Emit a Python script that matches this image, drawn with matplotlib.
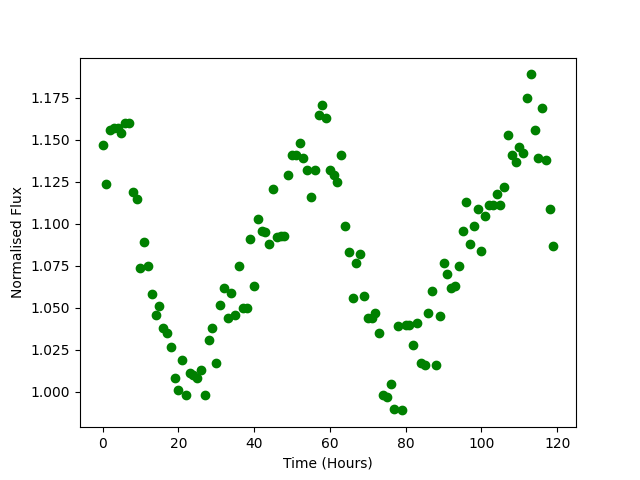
import matplotlib
matplotlib.use("Agg")
import matplotlib.pyplot as plt

# hours since start
hours = list(range(120))

# normalised flux
flux = [1.147, 1.124, 1.156, 1.157, 1.157, 1.154, 1.160, 1.160, 1.119, 1.115,
        1.074, 1.089, 1.075, 1.058, 1.046, 1.051, 1.038, 1.035, 1.027, 1.008,
        1.001, 1.019, 0.998, 1.011, 1.010, 1.008, 1.013, 0.998, 1.031, 1.038,
        1.017, 1.052, 1.062, 1.044, 1.059, 1.046, 1.075, 1.050, 1.050, 1.091,
        1.063, 1.103, 1.096, 1.095, 1.088, 1.121, 1.092, 1.093, 1.093, 1.129,
        1.141, 1.141, 1.148, 1.139, 1.132, 1.116, 1.132, 1.165, 1.171, 1.163,
        1.132, 1.129, 1.125, 1.141, 1.099, 1.083, 1.056, 1.077, 1.082, 1.057,
        1.044, 1.044, 1.047, 1.035, 0.998, 0.997, 1.005, 0.990, 1.039, 0.989,
        1.040, 1.040, 1.028, 1.041, 1.017, 1.016, 1.047, 1.060, 1.016, 1.045,
        1.077, 1.070, 1.062, 1.063, 1.075, 1.096, 1.113, 1.088, 1.099, 1.109,
        1.084, 1.105, 1.111, 1.111, 1.118, 1.111, 1.122, 1.153, 1.141, 1.137,
        1.146, 1.142, 1.175, 1.189, 1.156, 1.139, 1.169, 1.138, 1.109, 1.087]

plt.figure(figsize=(6.4, 4.8), dpi=100)
plt.plot(hours, flux, 'go')
plt.xlabel("Time (Hours)")
plt.ylabel("Normalised Flux")
plt.savefig("out.png")
